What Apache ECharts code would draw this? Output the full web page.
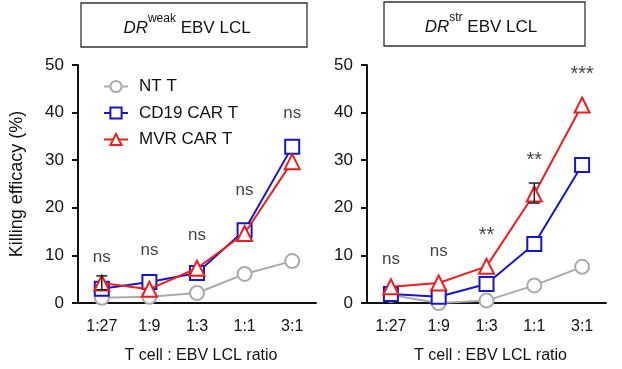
<!DOCTYPE html>
<html><head><meta charset="utf-8">
<script src="https://cdn.jsdelivr.net/npm/echarts@6/dist/echarts.min.js"></script>
<style>html,body{margin:0;padding:0;background:#fff}#c{width:622px;height:369px}</style>
</head><body><div id="c"></div>
<script>
const categories = ['1:27', '1:9', '1:3', '1:1', '3:1'];
const yTicks = [0, 10, 20, 30, 40, 50];
const seriesNames = ['NT T', 'CD19 CAR T', 'MVR CAR T'];
const weakNT = [1.1, 1.3, 2.1, 6.1, 8.8];
const weakCD19 = [3.0, 4.4, 6.3, 15.3, 32.8];
const weakMVR = [4.2, 2.9, 7.3, 14.6, 29.7];
const strNT = [1.7, 0.0, 0.5, 3.7, 7.6];
const strCD19 = [1.9, 1.3, 4.0, 12.4, 29.0];
const strMVR = [3.4, 4.2, 7.7, 22.9, 41.6];
const weakSig = ['ns', 'ns', 'ns', 'ns', 'ns'];
const weakSigY = [9.7, 11.1, 14.3, 23.7, 39.9];
const strSig = ['ns', 'ns', '**', '**', '***'];
const strSigY = [9.2, 10.9, 15.3, 30.9, 49.0];
const weakErr = [[0, 2.8, 5.7]];
const strErr = [[3, 21.0, 25.2]];

const FONT = '"Liberation Sans", Arial, sans-serif';
const colors = ['#aaaaaa', '#1616cc', '#ee1e1e'];
const symbols = ['circle', 'rect', 'triangle'];
const sizes = [14, 14, 15];

const chart = echarts.init(document.getElementById('c'));

function lineSeries(idx, data, gi) {
  return {
    name: seriesNames[idx], type: 'line', xAxisIndex: gi, yAxisIndex: gi,
    data: data, symbol: symbols[idx], symbolSize: sizes[idx], showAllSymbol: true,
    lineStyle: { color: colors[idx], width: 2 },
    itemStyle: { color: '#fff', borderColor: colors[idx], borderWidth: 2 },
    z: 3 + idx, animation: false
  };
}
function sigSeries(labels, ys, gi) {
  return {
    type: 'scatter', xAxisIndex: gi, yAxisIndex: gi, symbolSize: 0, silent: true,
    data: ys.map((v, i) => {
      const star = labels[i].indexOf('*') >= 0;
      return {
        value: [categories[i], v],
        label: star ? { fontSize: 20, offset: [0, 5] } : {}
      };
    }),
    label: { show: true, position: 'inside', formatter: p => labels[p.dataIndex],
      color: '#111', fontSize: 17, fontFamily: FONT },
    z: 10, animation: false
  };
}
function errSeries(errs, gi) {
  return {
    type: 'custom', xAxisIndex: gi, yAxisIndex: gi, silent: true, z: 10, animation: false,
    data: errs,
    renderItem: function (params, api) {
      const x = api.value(0);
      const lo = api.coord([x, api.value(1)]);
      const hi = api.coord([x, api.value(2)]);
      const w = 5.5;
      const st = { stroke: '#222', lineWidth: 1.5 };
      return { type: 'group', children: [
        { type: 'line', shape: { x1: lo[0], y1: lo[1], x2: hi[0], y2: hi[1] }, style: st },
        { type: 'line', shape: { x1: lo[0] - w, y1: lo[1], x2: lo[0] + w, y2: lo[1] }, style: st },
        { type: 'line', shape: { x1: hi[0] - w, y1: hi[1], x2: hi[0] + w, y2: hi[1] }, style: st }
      ]};
    }
  };
}
function xAxis(gi) {
  return {
    type: 'category', gridIndex: gi, data: categories, boundaryGap: true,
    axisLine: { lineStyle: { color: '#111', width: 2 } },
    axisTick: { alignWithLabel: true, length: 6, lineStyle: { color: '#111', width: 2 } },
    axisLabel: { color: '#111', fontSize: 16, fontFamily: FONT, margin: 16 },
    name: 'T cell : EBV LCL ratio', nameLocation: 'middle', nameGap: 45,
    nameTextStyle: { color: '#111', fontSize: 16, fontFamily: FONT, padding: [0, 0, 0, 8] }
  };
}
function yAxis(gi) {
  const a = {
    type: 'value', gridIndex: gi, min: yTicks[0], max: yTicks[yTicks.length - 1], interval: 10,
    splitLine: { show: false },
    axisLine: { show: true, lineStyle: { color: '#111', width: 2 } },
    axisTick: { show: true, length: 6, lineStyle: { color: '#111', width: 2 } },
    axisLabel: { color: '#111', fontSize: 17, fontFamily: FONT, margin: 14 }
  };
  if (gi === 0) {
    a.name = 'Killing efficacy (%)';
    a.nameLocation = 'middle';
    a.nameGap = 52;
    a.nameTextStyle = { color: '#111', fontSize: 18, fontFamily: FONT };
  }
  return a;
}
function titleBox(x, y, w, h, tx, sup) {
  return {
    type: 'group', children: [
      { type: 'rect', shape: { x: x, y: y, width: w, height: h },
        style: { fill: '#fff', stroke: '#333', lineWidth: 1.3 } },
      { type: 'text', x: tx, y: y + h / 2 + 3,
        style: {
          text: '{dr|DR}{sup|' + sup + '}{n| EBV LCL}',
          align: 'center', verticalAlign: 'middle',
          rich: {
            dr: { fontStyle: 'italic', fontSize: 17, fontFamily: FONT, fill: '#111', lineHeight: 30 },
            sup: { fontSize: 12, fontFamily: FONT, fill: '#111', verticalAlign: 'top', lineHeight: 14 },
            n: { fontSize: 17, fontFamily: FONT, fill: '#111', lineHeight: 30 }
          }
        } }
    ]
  };
}

chart.setOption({
  backgroundColor: '#fff',
  animation: false,
  grid: [
    { left: 78, top: 65, width: 238, height: 238 },
    { left: 367, top: 65, width: 239, height: 238 }
  ],
  xAxis: [xAxis(0), xAxis(1)],
  yAxis: [yAxis(0), yAxis(1)],
  legend: {
    orient: 'vertical', left: 98, top: 73, itemWidth: 24, itemHeight: 14, itemGap: 9.5,
    data: seriesNames,
    textStyle: { color: '#111', fontSize: 17, fontFamily: FONT, padding: [0, 0, 0, 6] }
  },
  graphic: [
    titleBox(81, 3, 226, 44, 187, 'weak'),
    titleBox(384, 2, 201, 44, 481, 'str')
  ],
  series: [
    lineSeries(0, weakNT, 0), lineSeries(1, weakCD19, 0), lineSeries(2, weakMVR, 0),
    lineSeries(0, strNT, 1), lineSeries(1, strCD19, 1), lineSeries(2, strMVR, 1),
    errSeries(weakErr, 0), errSeries(strErr, 1),
    sigSeries(weakSig, weakSigY, 0), sigSeries(strSig, strSigY, 1)
  ]
});
</script></body></html>
